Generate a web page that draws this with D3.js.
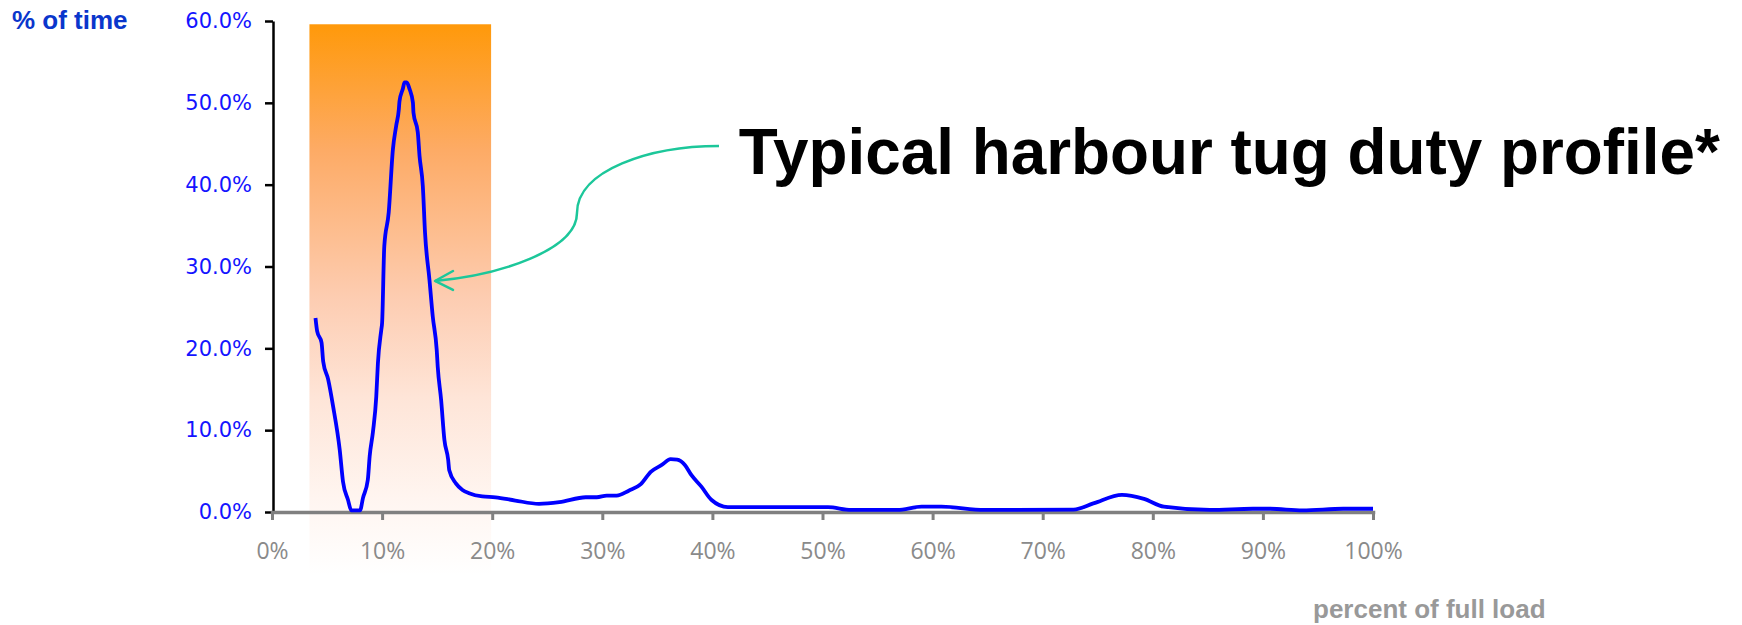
<!DOCTYPE html>
<html>
<head>
<meta charset="utf-8">
<script src="https://cdn.jsdelivr.net/npm/d3@7"></script>
<style>
  body { margin: 0; background: #fff; }
  svg { display: block; }
</style>
</head>
<body>
<div id="chart"></div>
<script>
// engine load (% of full load) and share of time spent there (%)
const loadPct = [3.95, 4.1, 4.5, 4.65, 5.1, 5.55, 6.15, 6.45, 6.9, 7.2, 8.0, 8.26, 8.7, 8.87, 9.17, 9.47, 9.62, 9.93,
  10.0, 10.2, 10.6, 10.98, 11.28, 11.52, 11.58, 11.88, 12.04, 12.24, 12.49, 12.8, 12.85, 13.24, 13.4, 13.7, 13.9,
  14.3, 14.6, 14.96, 15.05, 15.36, 15.66, 16.0, 16.1, 16.7, 17.3, 17.9, 19.1, 20.3, 22.1, 24.25, 26.1, 28.5, 29.5,
  30.4, 31.3, 32.4, 33.5, 34.4, 35.4, 36.2, 36.8, 37.5, 38.1, 39.0, 39.9, 41.4, 50.5, 52.6, 56.8, 59, 60.8, 64.7,
  72.8, 74.6, 77.2, 79.2, 81, 85.2, 89.1, 90.6, 93.6, 97.3, 100];
const timePct = [23.7, 22.1, 20.7, 18.4, 16.2, 12.9, 7.6, 3.7, 1.5, 0.2, 0.2, 1.7, 3.9, 6.8, 9.8, 14.1, 18.2, 22.3,
  23.1, 32.5, 36.6, 44.3, 47.2, 49.2, 50.2, 51.7, 52.5, 52.5, 51.7, 50.0, 48.8, 46.4, 43.5, 39.8, 34.1,
  28.4, 23.9, 19.8, 17.8, 13.7, 8.8, 6.4, 5.1, 3.5, 2.7, 2.3, 1.9, 1.8, 1.4, 1.0, 1.2, 1.8, 1.8,
  2.0, 2.0, 2.6, 3.4, 4.9, 5.75, 6.45, 6.4, 5.75, 4.5, 3.1, 1.5, 0.6, 0.6, 0.25, 0.25, 0.65, 0.65, 0.25,
  0.3, 1.05, 2.1, 1.6, 0.65, 0.25, 0.4, 0.4, 0.2, 0.4, 0.4];

const yTicks = [0, 10, 20, 30, 40, 50, 60];
const xTicks = [0, 10, 20, 30, 40, 50, 60, 70, 80, 90, 100];

// highlighted load band (x) and its vertical extent (y, runs below the axis)
const bandLoad = [3.4, 19.9];
const bandTime = [59.6, -7.7];

// callout arrow, in data units: start, control points, tip
const calloutCurve = [[40.6, 44.73], [34.33, 44.73], [27.7, 41.79], [27.7, 36.54],
  [27.7, 32.02], [20.71, 28.96], [14.8, 28.23]];
const calloutHead = [[16.44, 29.45], [14.8, 28.23], [16.44, 27.13]];
const calloutLabel = { load: 42.4, time: 41.3, text: "Typical harbour tug duty profile*" };

const data = loadPct.map((d, i) => ({ load: d, time: timePct[i] }));

const width = 1742, height = 625;

const svg = d3.select("#chart").append("svg")
  .attr("width", width)
  .attr("height", height);

const x = d3.scaleLinear().domain([0, 100]).range([272, 1373]);
const y = d3.scaleLinear().domain([0, 60]).range([512, 21]);

// gradient band
const grad = svg.append("defs").append("linearGradient")
  .attr("id", "bandGrad")
  .attr("x1", 0).attr("y1", 0).attr("x2", 0).attr("y2", 1);
[[0, "#ff990a"], [0.23, "#fdab66"], [0.5, "#fdcdb2"], [0.68, "#fee5d8"], [0.86, "#fff5f0"], [1, "#ffffff"]]
  .forEach(s => grad.append("stop").attr("offset", s[0]).attr("stop-color", s[1]));

svg.append("rect")
  .attr("x", x(bandLoad[0]))
  .attr("y", y(bandTime[0]))
  .attr("width", x(bandLoad[1]) - x(bandLoad[0]))
  .attr("height", y(bandTime[1]) - y(bandTime[0]))
  .attr("fill", "url(#bandGrad)");

// y axis
const yAxis = svg.append("g")
  .attr("transform", "translate(273,0)")
  .call(d3.axisLeft(y).tickValues(yTicks).tickSize(8).tickSizeOuter(0).tickPadding(13)
    .tickFormat(d => d3.format(".1f")(d) + "%"));
yAxis.select(".domain").attr("stroke", "#000").attr("stroke-width", 2.5);
yAxis.selectAll(".tick line").attr("stroke", "#000").attr("stroke-width", 2.5);
yAxis.selectAll(".tick text")
  .attr("fill", "#1414ff")
  .style("font-family", "'DejaVu Sans', Verdana, sans-serif")
  .style("font-size", "21px");

// x axis
const xAxis = svg.append("g")
  .attr("transform", `translate(0,${y(0)})`)
  .call(d3.axisBottom(x).tickValues(xTicks).tickSize(8).tickSizeOuter(0).tickPadding(23)
    .tickFormat(d => d + "%"));
xAxis.select(".domain").attr("stroke", "#808080").attr("stroke-width", 3.5).attr("stroke-linecap", "square");
xAxis.selectAll(".tick line").attr("stroke", "#808080").attr("stroke-width", 3);
xAxis.selectAll(".tick text")
  .attr("fill", "#8a8a8a")
  .style("font-family", "'Open Sans', sans-serif")
  .style("font-size", "23px");

// duty profile line
const line = d3.line()
  .x(d => x(d.load))
  .y(d => y(d.time))
  .curve(d3.curveMonotoneX);

svg.append("path")
  .datum(data)
  .attr("fill", "none")
  .attr("stroke", "#0000ff")
  .attr("stroke-width", 3.8)
  .attr("stroke-linejoin", "round")
  .attr("d", line);

// callout arrow
const p = calloutCurve.map(d => [x(d[0]), y(d[1])]);
const arrowPath = d3.path();
arrowPath.moveTo(p[0][0], p[0][1]);
arrowPath.bezierCurveTo(p[1][0], p[1][1], p[2][0], p[2][1], p[3][0], p[3][1]);
arrowPath.bezierCurveTo(p[4][0], p[4][1], p[5][0], p[5][1], p[6][0], p[6][1]);

svg.append("path")
  .attr("d", arrowPath.toString())
  .attr("fill", "none")
  .attr("stroke", "#1cc79a")
  .attr("stroke-width", 2.5);

svg.append("path")
  .attr("d", d3.line().x(d => x(d[0])).y(d => y(d[1]))(calloutHead))
  .attr("fill", "none")
  .attr("stroke", "#1cc79a")
  .attr("stroke-width", 2.5)
  .attr("stroke-linecap", "round")
  .attr("stroke-linejoin", "round");

svg.append("text")
  .attr("x", x(calloutLabel.load))
  .attr("y", y(calloutLabel.time))
  .attr("textLength", 981)
  .attr("lengthAdjust", "spacingAndGlyphs")
  .style("font-family", "'Liberation Sans', Arial, sans-serif")
  .style("font-weight", "bold")
  .style("font-size", "64px")
  .attr("fill", "#000")
  .text(calloutLabel.text);

// axis titles
svg.append("text")
  .attr("x", 12)
  .attr("y", 29)
  .style("font-family", "'Liberation Sans', Arial, sans-serif")
  .style("font-weight", "bold")
  .style("font-size", "26px")
  .attr("fill", "#0a36cc")
  .text("% of time");

svg.append("text")
  .attr("x", 1313)
  .attr("y", 618)
  .style("font-family", "'Liberation Sans', Arial, sans-serif")
  .style("font-weight", "bold")
  .style("font-size", "26px")
  .attr("fill", "#999")
  .text("percent of full load");
</script>
</body>
</html>
